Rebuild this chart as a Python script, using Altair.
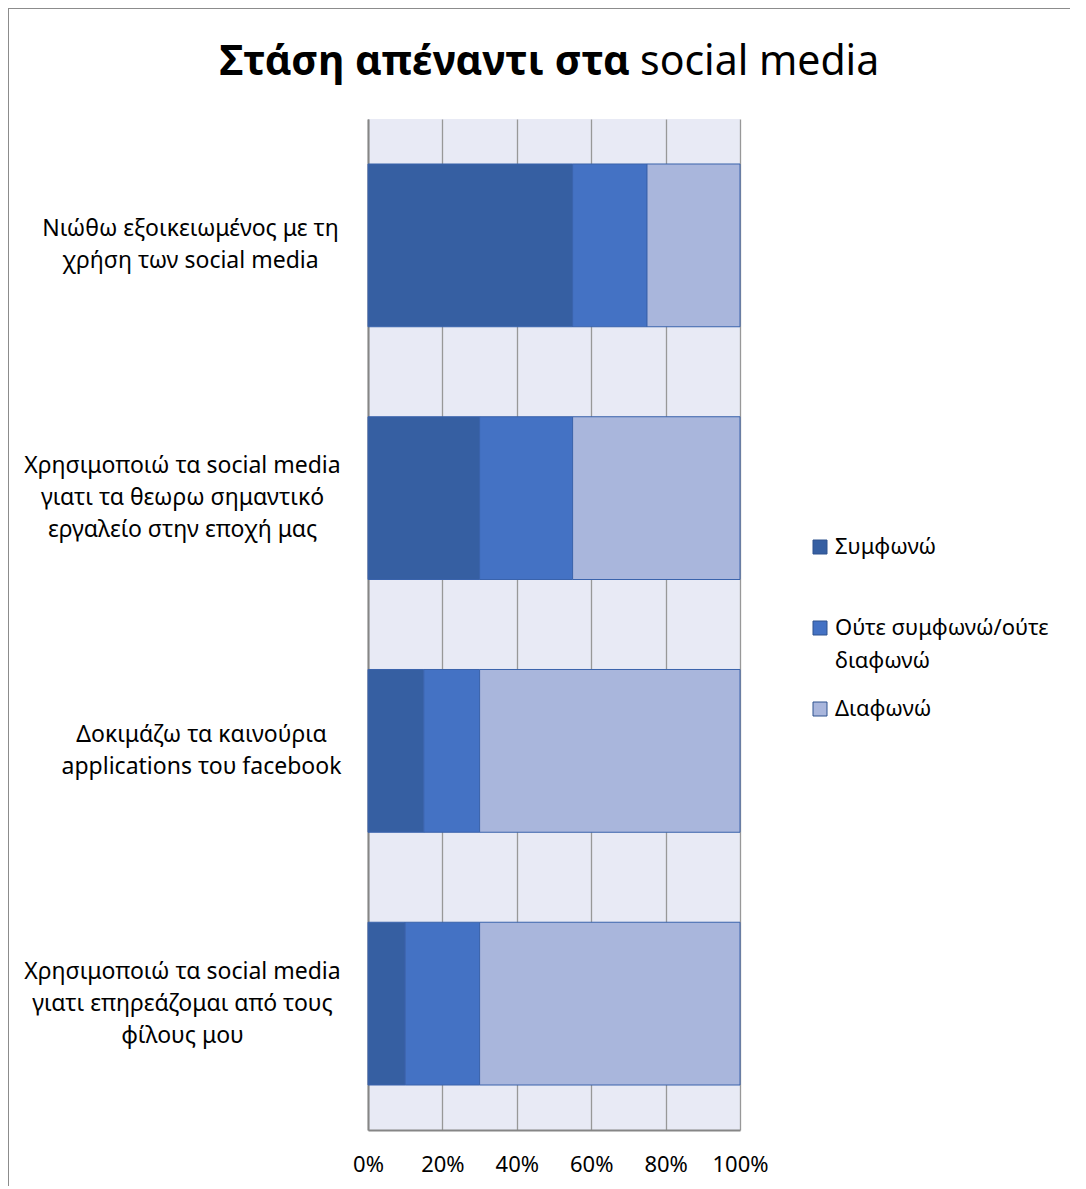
import json
import altair as alt
import pandas as pd

statements = [
    "Νιώθω εξοικειωμένος με τη χρήση των social media",
    "Χρησιμοποιώ τα social media γιατι τα θεωρω σημαντικό εργαλείο στην εποχή μας",
    "Δοκιμάζω τα καινούρια applications του facebook",
    "Χρησιμοποιώ τα social media γιατι επηρεάζομαι από τους φίλους μου",
]
statement_lines = [
    ["Νιώθω εξοικειωμένος με τη", "χρήση των social media"],
    ["Χρησιμοποιώ τα social media", "γιατι τα θεωρω σημαντικό", "εργαλείο στην εποχή μας"],
    ["Δοκιμάζω τα καινούρια", "applications του facebook"],
    ["Χρησιμοποιώ τα social media", "γιατι επηρεάζομαι από τους", "φίλους μου"],
]
responses = ["Συμφωνώ", "Ούτε συμφωνώ/ούτε διαφωνώ", "Διαφωνώ"]
agree = [55, 30, 15, 10]
neutral = [20, 25, 15, 20]
disagree = [25, 45, 70, 70]
colors = ["#365FA2", "#4472C4", "#A9B6DC"]
x_ticks = [0, 0.2, 0.4, 0.6, 0.8, 1.0]

rows = []
for i, s in enumerate(statements):
    for j, (r, vals) in enumerate(zip(responses, [agree, neutral, disagree])):
        rows.append({"statement": s, "response": r, "order": j, "value": vals[i]})
df = pd.DataFrame(rows)

label_map = {s: lines for s, lines in zip(statements, statement_lines)}
map_js = json.dumps(label_map, ensure_ascii=False)
label_expr = map_js + "[datum.label]"
LINE_H = 32
legend_expr = ("datum.label == 'Ούτε συμφωνώ/ούτε διαφωνώ' ? "
               "['Ούτε συμφωνώ/ούτε', 'διαφωνώ'] : "
               "(datum.label == 'Συμφωνώ' ? ['Συμφωνώ', ' '] : datum.label)")

FONT = "Noto Sans"

# horizontal placement of each label block (Excel right-aligns the block, centres lines)
pad_conditions = [
    {"test": "datum.value == " + json.dumps(statements[1], ensure_ascii=False), "value": 186},
    {"test": "datum.value == " + json.dumps(statements[3], ensure_ascii=False), "value": 186},
    {"test": "datum.value == " + json.dumps(statements[2], ensure_ascii=False), "value": 167},
]

bars = alt.Chart(df).mark_bar(stroke="#3A63AC", strokeWidth=1).encode(
    y=alt.Y("statement:N", sort=statements,
            scale=alt.Scale(paddingInner=0.356, paddingOuter=0.178),
            axis=alt.Axis(title=None, labelExpr=label_expr, labelAlign="center",
                          labelBaseline="middle",
                          labelPadding={"condition": pad_conditions, "value": 178},
                          ticks=False,
                          labelOffset={"condition": {"test": "length(" + map_js + "[datum.value]) == 3",
                                                     "value": -LINE_H},
                                       "value": -LINE_H / 2},
                          labelFontSize=23, labelLineHeight=LINE_H, labelColor="#000000",
                          labelFont=FONT, domainColor="#868686", domainWidth=2,
                          grid=False, labelLimit=400)),
    x=alt.X("value:Q", stack="normalize",
            scale=alt.Scale(domain=[0, 1]),
            axis=alt.Axis(title=None, format="%", values=x_ticks, ticks=False,
                          labelFontSize=22, labelFont=FONT, labelColor="#000000",
                          labelFlush=False, labelPadding=24,
                          domainColor="#868686", domainWidth=2,
                          grid=True, gridColor="#989898", gridWidth=1.3)),
    color=alt.Color("response:N", sort=responses,
                    scale=alt.Scale(domain=responses, range=colors),
                    legend=alt.Legend(title=None, orient="none", legendX=441, legendY=417,
                                      symbolType="square", symbolSize=196,
                                      symbolStrokeColor="#2F528F", symbolStrokeWidth=1,
                                      labelFontSize=22, labelFont=FONT, labelColor="#000000",
                                      labelOffset=4, rowPadding=26,
                                      labelBaseline="middle", labelExpr=legend_expr,
                                      labelLimit=400)),
    order=alt.Order("order:Q"),
)

title_bold = alt.Chart(pd.DataFrame({"t": ["Στάση απέναντι στα"]})).mark_text(
    font=FONT, fontSize=41, fontWeight="bold", align="right", baseline="alphabetic",
    color="#000000").encode(text="t:N", x=alt.value(262), y=alt.value(-44))
title_reg = alt.Chart(pd.DataFrame({"t": ["social media"]})).mark_text(
    font=FONT, fontSize=41, fontWeight="normal", align="left", baseline="alphabetic",
    color="#000000").encode(text="t:N", x=alt.value(272), y=alt.value(-44))

border = alt.Chart(pd.DataFrame({"a": [0]})).mark_rect(
    fill=None, stroke="#8C8C8C", strokeWidth=2).encode(
    x=alt.value(-360), x2=alt.value(1200), y=alt.value(-111), y2=alt.value(1300))

chart = alt.layer(bars, title_bold, title_reg, border).properties(
    width=372, height=1011,
    autosize=alt.AutoSizeParams(type="none"),
    padding={"left": 360, "top": 111, "right": 330, "bottom": 56},
    background="#FFFFFF",
).configure(
    style={"guide-label": {"lineHeight": 33}},
).configure_view(fill="#E8EAF5", stroke=None)

chart.save("out.html", embed_options={"renderer": "svg", "actions": False})
